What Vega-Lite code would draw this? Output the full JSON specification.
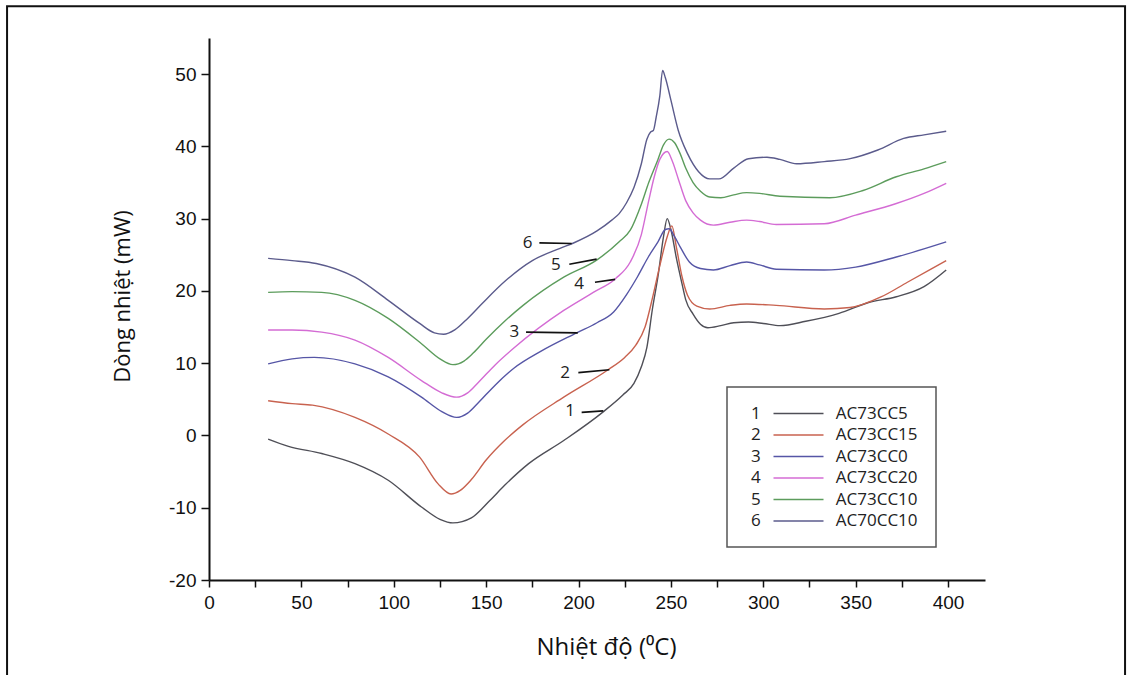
{
  "$schema": "https://vega.github.io/schema/vega-lite/v6.json",
  "width": 776,
  "height": 542,
  "autosize": {"type": "none"},
  "padding": {"left": 209, "top": 38, "right": 147, "bottom": 95},
  "background": "white",
  "config": {
    "view": {"stroke": null},
    "axis": {"grid": false, "domainColor": "#111", "domainWidth": 2, "tickColor": "#111", "tickWidth": 1.5, "labelColor": "#111", "titleColor": "#111", "titleFontWeight": "normal"},
    "legend": {"strokeWidth": 1.5}
  },
  "datasets": {
    "curves": [
      {"name": "AC73CC5", "num": "1", "T": 32, "v": -0.5},
      {"name": "AC73CC5", "num": "1", "T": 43, "v": -1.5},
      {"name": "AC73CC5", "num": "1", "T": 61, "v": -2.5},
      {"name": "AC73CC5", "num": "1", "T": 79, "v": -3.9},
      {"name": "AC73CC5", "num": "1", "T": 97, "v": -6.2},
      {"name": "AC73CC5", "num": "1", "T": 115, "v": -9.9},
      {"name": "AC73CC5", "num": "1", "T": 125, "v": -11.6},
      {"name": "AC73CC5", "num": "1", "T": 132, "v": -12.1},
      {"name": "AC73CC5", "num": "1", "T": 142, "v": -11.4},
      {"name": "AC73CC5", "num": "1", "T": 152, "v": -9.0},
      {"name": "AC73CC5", "num": "1", "T": 160, "v": -6.9},
      {"name": "AC73CC5", "num": "1", "T": 173, "v": -3.9},
      {"name": "AC73CC5", "num": "1", "T": 192, "v": -0.7},
      {"name": "AC73CC5", "num": "1", "T": 213, "v": 3.2},
      {"name": "AC73CC5", "num": "1", "T": 224, "v": 5.6},
      {"name": "AC73CC5", "num": "1", "T": 230, "v": 7.2},
      {"name": "AC73CC5", "num": "1", "T": 234, "v": 9.5},
      {"name": "AC73CC5", "num": "1", "T": 237, "v": 12.2},
      {"name": "AC73CC5", "num": "1", "T": 240, "v": 17.5},
      {"name": "AC73CC5", "num": "1", "T": 243, "v": 22.0},
      {"name": "AC73CC5", "num": "1", "T": 246, "v": 27.5},
      {"name": "AC73CC5", "num": "1", "T": 248, "v": 30.0},
      {"name": "AC73CC5", "num": "1", "T": 250, "v": 28.5},
      {"name": "AC73CC5", "num": "1", "T": 253, "v": 24.5},
      {"name": "AC73CC5", "num": "1", "T": 256, "v": 21.0},
      {"name": "AC73CC5", "num": "1", "T": 258, "v": 18.8},
      {"name": "AC73CC5", "num": "1", "T": 262, "v": 16.8},
      {"name": "AC73CC5", "num": "1", "T": 266, "v": 15.4},
      {"name": "AC73CC5", "num": "1", "T": 270, "v": 14.9},
      {"name": "AC73CC5", "num": "1", "T": 277, "v": 15.2},
      {"name": "AC73CC5", "num": "1", "T": 284, "v": 15.6},
      {"name": "AC73CC5", "num": "1", "T": 292, "v": 15.7},
      {"name": "AC73CC5", "num": "1", "T": 300, "v": 15.5},
      {"name": "AC73CC5", "num": "1", "T": 309, "v": 15.2},
      {"name": "AC73CC5", "num": "1", "T": 323, "v": 15.8},
      {"name": "AC73CC5", "num": "1", "T": 341, "v": 16.9},
      {"name": "AC73CC5", "num": "1", "T": 357, "v": 18.4},
      {"name": "AC73CC5", "num": "1", "T": 372, "v": 19.2},
      {"name": "AC73CC5", "num": "1", "T": 387, "v": 20.6},
      {"name": "AC73CC5", "num": "1", "T": 399, "v": 22.9},

      {"name": "AC73CC15", "num": "2", "T": 32, "v": 4.8},
      {"name": "AC73CC15", "num": "2", "T": 45, "v": 4.4},
      {"name": "AC73CC15", "num": "2", "T": 56, "v": 4.2},
      {"name": "AC73CC15", "num": "2", "T": 79, "v": 2.5},
      {"name": "AC73CC15", "num": "2", "T": 97, "v": 0.2},
      {"name": "AC73CC15", "num": "2", "T": 114, "v": -3.0},
      {"name": "AC73CC15", "num": "2", "T": 124, "v": -6.7},
      {"name": "AC73CC15", "num": "2", "T": 131, "v": -8.1},
      {"name": "AC73CC15", "num": "2", "T": 136, "v": -7.6},
      {"name": "AC73CC15", "num": "2", "T": 142, "v": -6.1},
      {"name": "AC73CC15", "num": "2", "T": 150, "v": -3.4},
      {"name": "AC73CC15", "num": "2", "T": 160, "v": -0.7},
      {"name": "AC73CC15", "num": "2", "T": 170, "v": 1.5},
      {"name": "AC73CC15", "num": "2", "T": 192, "v": 5.3},
      {"name": "AC73CC15", "num": "2", "T": 216, "v": 9.1},
      {"name": "AC73CC15", "num": "2", "T": 225, "v": 10.8},
      {"name": "AC73CC15", "num": "2", "T": 231, "v": 12.5},
      {"name": "AC73CC15", "num": "2", "T": 236, "v": 15.0},
      {"name": "AC73CC15", "num": "2", "T": 240, "v": 19.0},
      {"name": "AC73CC15", "num": "2", "T": 244, "v": 23.5},
      {"name": "AC73CC15", "num": "2", "T": 248, "v": 27.5},
      {"name": "AC73CC15", "num": "2", "T": 250.5, "v": 29.0},
      {"name": "AC73CC15", "num": "2", "T": 253, "v": 26.0},
      {"name": "AC73CC15", "num": "2", "T": 256, "v": 22.0},
      {"name": "AC73CC15", "num": "2", "T": 259, "v": 19.4},
      {"name": "AC73CC15", "num": "2", "T": 264, "v": 17.9},
      {"name": "AC73CC15", "num": "2", "T": 271, "v": 17.5},
      {"name": "AC73CC15", "num": "2", "T": 282, "v": 18.0},
      {"name": "AC73CC15", "num": "2", "T": 291, "v": 18.2},
      {"name": "AC73CC15", "num": "2", "T": 307, "v": 18.0},
      {"name": "AC73CC15", "num": "2", "T": 333, "v": 17.5},
      {"name": "AC73CC15", "num": "2", "T": 347, "v": 17.7},
      {"name": "AC73CC15", "num": "2", "T": 364, "v": 19.2},
      {"name": "AC73CC15", "num": "2", "T": 378, "v": 21.2},
      {"name": "AC73CC15", "num": "2", "T": 399, "v": 24.2},

      {"name": "AC73CC0", "num": "3", "T": 32, "v": 9.9},
      {"name": "AC73CC0", "num": "3", "T": 45, "v": 10.6},
      {"name": "AC73CC0", "num": "3", "T": 57, "v": 10.8},
      {"name": "AC73CC0", "num": "3", "T": 79, "v": 9.9},
      {"name": "AC73CC0", "num": "3", "T": 97, "v": 8.1},
      {"name": "AC73CC0", "num": "3", "T": 115, "v": 5.3},
      {"name": "AC73CC0", "num": "3", "T": 126, "v": 3.3},
      {"name": "AC73CC0", "num": "3", "T": 134, "v": 2.5},
      {"name": "AC73CC0", "num": "3", "T": 140, "v": 3.1},
      {"name": "AC73CC0", "num": "3", "T": 146, "v": 4.6},
      {"name": "AC73CC0", "num": "3", "T": 155, "v": 7.0},
      {"name": "AC73CC0", "num": "3", "T": 165, "v": 9.3},
      {"name": "AC73CC0", "num": "3", "T": 180, "v": 11.7},
      {"name": "AC73CC0", "num": "3", "T": 199, "v": 14.2},
      {"name": "AC73CC0", "num": "3", "T": 210, "v": 15.6},
      {"name": "AC73CC0", "num": "3", "T": 219, "v": 17.1},
      {"name": "AC73CC0", "num": "3", "T": 226, "v": 19.5},
      {"name": "AC73CC0", "num": "3", "T": 232, "v": 22.0},
      {"name": "AC73CC0", "num": "3", "T": 238, "v": 24.8},
      {"name": "AC73CC0", "num": "3", "T": 243, "v": 26.8},
      {"name": "AC73CC0", "num": "3", "T": 247, "v": 28.5},
      {"name": "AC73CC0", "num": "3", "T": 249, "v": 28.6},
      {"name": "AC73CC0", "num": "3", "T": 252, "v": 27.5},
      {"name": "AC73CC0", "num": "3", "T": 255, "v": 26.1},
      {"name": "AC73CC0", "num": "3", "T": 260, "v": 24.0},
      {"name": "AC73CC0", "num": "3", "T": 266, "v": 23.1},
      {"name": "AC73CC0", "num": "3", "T": 273, "v": 22.9},
      {"name": "AC73CC0", "num": "3", "T": 282, "v": 23.5},
      {"name": "AC73CC0", "num": "3", "T": 291, "v": 24.0},
      {"name": "AC73CC0", "num": "3", "T": 298, "v": 23.6},
      {"name": "AC73CC0", "num": "3", "T": 307, "v": 23.0},
      {"name": "AC73CC0", "num": "3", "T": 333, "v": 22.9},
      {"name": "AC73CC0", "num": "3", "T": 350, "v": 23.3},
      {"name": "AC73CC0", "num": "3", "T": 372, "v": 24.7},
      {"name": "AC73CC0", "num": "3", "T": 399, "v": 26.8},

      {"name": "AC73CC20", "num": "4", "T": 32, "v": 14.6},
      {"name": "AC73CC20", "num": "4", "T": 45, "v": 14.6},
      {"name": "AC73CC20", "num": "4", "T": 61, "v": 14.3},
      {"name": "AC73CC20", "num": "4", "T": 79, "v": 13.2},
      {"name": "AC73CC20", "num": "4", "T": 97, "v": 10.8},
      {"name": "AC73CC20", "num": "4", "T": 115, "v": 7.6},
      {"name": "AC73CC20", "num": "4", "T": 126, "v": 5.9},
      {"name": "AC73CC20", "num": "4", "T": 134, "v": 5.3},
      {"name": "AC73CC20", "num": "4", "T": 140, "v": 5.9},
      {"name": "AC73CC20", "num": "4", "T": 146, "v": 7.4},
      {"name": "AC73CC20", "num": "4", "T": 155, "v": 9.8},
      {"name": "AC73CC20", "num": "4", "T": 165, "v": 12.1},
      {"name": "AC73CC20", "num": "4", "T": 192, "v": 17.3},
      {"name": "AC73CC20", "num": "4", "T": 208, "v": 19.8},
      {"name": "AC73CC20", "num": "4", "T": 220, "v": 21.7},
      {"name": "AC73CC20", "num": "4", "T": 228, "v": 24.0},
      {"name": "AC73CC20", "num": "4", "T": 234, "v": 27.8},
      {"name": "AC73CC20", "num": "4", "T": 238, "v": 32.5},
      {"name": "AC73CC20", "num": "4", "T": 241, "v": 35.8},
      {"name": "AC73CC20", "num": "4", "T": 244, "v": 38.2},
      {"name": "AC73CC20", "num": "4", "T": 248, "v": 39.3},
      {"name": "AC73CC20", "num": "4", "T": 251, "v": 37.8},
      {"name": "AC73CC20", "num": "4", "T": 254, "v": 35.5},
      {"name": "AC73CC20", "num": "4", "T": 258, "v": 32.5},
      {"name": "AC73CC20", "num": "4", "T": 262, "v": 30.8},
      {"name": "AC73CC20", "num": "4", "T": 266, "v": 29.8},
      {"name": "AC73CC20", "num": "4", "T": 273, "v": 29.1},
      {"name": "AC73CC20", "num": "4", "T": 282, "v": 29.5},
      {"name": "AC73CC20", "num": "4", "T": 291, "v": 29.8},
      {"name": "AC73CC20", "num": "4", "T": 298, "v": 29.6},
      {"name": "AC73CC20", "num": "4", "T": 307, "v": 29.2},
      {"name": "AC73CC20", "num": "4", "T": 333, "v": 29.3},
      {"name": "AC73CC20", "num": "4", "T": 350, "v": 30.5},
      {"name": "AC73CC20", "num": "4", "T": 372, "v": 32.1},
      {"name": "AC73CC20", "num": "4", "T": 387, "v": 33.5},
      {"name": "AC73CC20", "num": "4", "T": 399, "v": 34.9},

      {"name": "AC73CC10", "num": "5", "T": 32, "v": 19.8},
      {"name": "AC73CC10", "num": "5", "T": 45, "v": 19.9},
      {"name": "AC73CC10", "num": "5", "T": 61, "v": 19.8},
      {"name": "AC73CC10", "num": "5", "T": 79, "v": 18.7},
      {"name": "AC73CC10", "num": "5", "T": 97, "v": 16.2},
      {"name": "AC73CC10", "num": "5", "T": 115, "v": 12.7},
      {"name": "AC73CC10", "num": "5", "T": 125, "v": 10.6},
      {"name": "AC73CC10", "num": "5", "T": 132, "v": 9.8},
      {"name": "AC73CC10", "num": "5", "T": 138, "v": 10.3},
      {"name": "AC73CC10", "num": "5", "T": 143, "v": 11.4},
      {"name": "AC73CC10", "num": "5", "T": 150, "v": 13.3},
      {"name": "AC73CC10", "num": "5", "T": 160, "v": 15.8},
      {"name": "AC73CC10", "num": "5", "T": 170, "v": 18.0},
      {"name": "AC73CC10", "num": "5", "T": 192, "v": 21.9},
      {"name": "AC73CC10", "num": "5", "T": 210, "v": 24.3},
      {"name": "AC73CC10", "num": "5", "T": 222, "v": 26.8},
      {"name": "AC73CC10", "num": "5", "T": 228, "v": 28.4},
      {"name": "AC73CC10", "num": "5", "T": 234, "v": 32.0},
      {"name": "AC73CC10", "num": "5", "T": 238, "v": 35.0},
      {"name": "AC73CC10", "num": "5", "T": 243, "v": 38.2},
      {"name": "AC73CC10", "num": "5", "T": 246, "v": 40.2},
      {"name": "AC73CC10", "num": "5", "T": 249, "v": 41.0},
      {"name": "AC73CC10", "num": "5", "T": 252, "v": 40.5},
      {"name": "AC73CC10", "num": "5", "T": 255, "v": 39.0},
      {"name": "AC73CC10", "num": "5", "T": 258, "v": 37.0},
      {"name": "AC73CC10", "num": "5", "T": 262, "v": 35.0},
      {"name": "AC73CC10", "num": "5", "T": 266, "v": 33.8},
      {"name": "AC73CC10", "num": "5", "T": 271, "v": 33.0},
      {"name": "AC73CC10", "num": "5", "T": 277, "v": 32.9},
      {"name": "AC73CC10", "num": "5", "T": 284, "v": 33.3},
      {"name": "AC73CC10", "num": "5", "T": 291, "v": 33.6},
      {"name": "AC73CC10", "num": "5", "T": 298, "v": 33.5},
      {"name": "AC73CC10", "num": "5", "T": 309, "v": 33.1},
      {"name": "AC73CC10", "num": "5", "T": 336, "v": 32.9},
      {"name": "AC73CC10", "num": "5", "T": 354, "v": 33.9},
      {"name": "AC73CC10", "num": "5", "T": 372, "v": 35.8},
      {"name": "AC73CC10", "num": "5", "T": 387, "v": 36.9},
      {"name": "AC73CC10", "num": "5", "T": 399, "v": 37.9},

      {"name": "AC70CC10", "num": "6", "T": 32, "v": 24.5},
      {"name": "AC70CC10", "num": "6", "T": 45, "v": 24.2},
      {"name": "AC70CC10", "num": "6", "T": 58, "v": 23.8},
      {"name": "AC70CC10", "num": "6", "T": 79, "v": 21.9},
      {"name": "AC70CC10", "num": "6", "T": 97, "v": 18.7},
      {"name": "AC70CC10", "num": "6", "T": 114, "v": 15.5},
      {"name": "AC70CC10", "num": "6", "T": 122, "v": 14.2},
      {"name": "AC70CC10", "num": "6", "T": 127, "v": 14.0},
      {"name": "AC70CC10", "num": "6", "T": 133, "v": 14.6},
      {"name": "AC70CC10", "num": "6", "T": 140, "v": 16.2},
      {"name": "AC70CC10", "num": "6", "T": 148, "v": 18.3},
      {"name": "AC70CC10", "num": "6", "T": 160, "v": 21.3},
      {"name": "AC70CC10", "num": "6", "T": 175, "v": 24.2},
      {"name": "AC70CC10", "num": "6", "T": 190, "v": 25.9},
      {"name": "AC70CC10", "num": "6", "T": 197, "v": 26.6},
      {"name": "AC70CC10", "num": "6", "T": 210, "v": 28.3},
      {"name": "AC70CC10", "num": "6", "T": 218, "v": 29.8},
      {"name": "AC70CC10", "num": "6", "T": 222, "v": 30.7},
      {"name": "AC70CC10", "num": "6", "T": 226, "v": 32.2},
      {"name": "AC70CC10", "num": "6", "T": 230, "v": 34.3},
      {"name": "AC70CC10", "num": "6", "T": 234, "v": 37.6},
      {"name": "AC70CC10", "num": "6", "T": 237, "v": 41.0},
      {"name": "AC70CC10", "num": "6", "T": 239, "v": 42.0},
      {"name": "AC70CC10", "num": "6", "T": 240.5, "v": 42.2},
      {"name": "AC70CC10", "num": "6", "T": 242, "v": 44.0},
      {"name": "AC70CC10", "num": "6", "T": 244, "v": 47.0},
      {"name": "AC70CC10", "num": "6", "T": 245.5, "v": 50.5},
      {"name": "AC70CC10", "num": "6", "T": 247, "v": 49.5},
      {"name": "AC70CC10", "num": "6", "T": 250, "v": 46.4},
      {"name": "AC70CC10", "num": "6", "T": 254, "v": 42.2},
      {"name": "AC70CC10", "num": "6", "T": 259, "v": 39.0},
      {"name": "AC70CC10", "num": "6", "T": 265, "v": 36.5},
      {"name": "AC70CC10", "num": "6", "T": 271, "v": 35.5},
      {"name": "AC70CC10", "num": "6", "T": 276, "v": 35.5},
      {"name": "AC70CC10", "num": "6", "T": 284, "v": 37.0},
      {"name": "AC70CC10", "num": "6", "T": 292, "v": 38.3},
      {"name": "AC70CC10", "num": "6", "T": 302, "v": 38.5},
      {"name": "AC70CC10", "num": "6", "T": 309, "v": 38.2},
      {"name": "AC70CC10", "num": "6", "T": 318, "v": 37.6},
      {"name": "AC70CC10", "num": "6", "T": 333, "v": 37.9},
      {"name": "AC70CC10", "num": "6", "T": 347, "v": 38.3},
      {"name": "AC70CC10", "num": "6", "T": 362, "v": 39.5},
      {"name": "AC70CC10", "num": "6", "T": 376, "v": 41.1},
      {"name": "AC70CC10", "num": "6", "T": 387, "v": 41.6},
      {"name": "AC70CC10", "num": "6", "T": 399, "v": 42.1}
    ],
    "tags": [
      {"num": "1", "T": 195.4, "v": 3.4},
      {"num": "2", "T": 192.7, "v": 8.6},
      {"num": "3", "T": 165.3, "v": 14.3},
      {"num": "4", "T": 200.3, "v": 20.9},
      {"num": "5", "T": 187.8, "v": 23.6},
      {"num": "6", "T": 172.5, "v": 26.65}
    ],
    "leaders": [
      {"num": "1", "T": 201.7, "T2": 213.4, "v": 3.2, "v2": 3.4},
      {"num": "2", "T": 199.9, "T2": 216.7, "v": 8.7, "v2": 9.1},
      {"num": "3", "T": 171.6, "T2": 199.6, "v": 14.3, "v2": 14.2},
      {"num": "4", "T": 208.9, "T2": 219.8, "v": 21.2, "v2": 21.6},
      {"num": "5", "T": 195.0, "T2": 209.8, "v": 23.7, "v2": 24.4},
      {"num": "6", "T": 178.8, "T2": 196.3, "v": 26.65, "v2": 26.57}
    ]
  },
  "layer": [
    {
      "data": {"values": [{}]},
      "mark": {"type": "rect", "fill": null, "stroke": "#111", "strokeWidth": 2},
      "encoding": {
        "x": {"datum": -109.3, "type": "quantitative", "scale": {"domain": [0, 420]}},
        "x2": {"datum": 495.8},
        "y": {"datum": 59.4, "type": "quantitative", "scale": {"domain": [-20, 55]}},
        "y2": {"datum": -40}
      }
    },
    {
      "data": {"name": "curves"},
      "mark": {"type": "line", "interpolate": "monotone", "strokeWidth": 1.4},
      "encoding": {
        "x": {
          "field": "T", "type": "quantitative",
          "scale": {"domain": [0, 420], "nice": false, "zero": false},
          "axis": {
            "title": "Nhiệt độ (⁰C)",
            "values": [0, 25, 50, 75, 100, 125, 150, 175, 200, 225, 250, 275, 300, 325, 350, 375, 400],
            "labelExpr": "datum.value % 50 == 0 ? toString(datum.value) : ''",
            "labelFont": "Liberation Sans", "labelFontSize": 19, "labelPadding": 6,
            "labelFlush": false, "labelOverlap": false, "labelBound": false,
            "tickSize": 7,
            "titleFont": "Open Sans", "titleFontSize": 24, "titlePadding": 23, "titleX": 397
          }
        },
        "y": {
          "field": "v", "type": "quantitative",
          "scale": {"domain": [-20, 55], "nice": false, "zero": false},
          "axis": {
            "title": "Dòng nhiệt (mW)",
            "values": [-20, -15, -10, -5, 0, 5, 10, 15, 20, 25, 30, 35, 40, 45, 50, 55],
            "labelExpr": "datum.value % 10 == 0 ? toString(datum.value) : ''",
            "labelFont": "Liberation Sans", "labelFontSize": 19, "labelPadding": 5,
            "labelFlush": false, "labelOverlap": false, "labelBound": false,
            "tickSize": 8,
            "titleFont": "Open Sans", "titleFontSize": 22, "titlePadding": 34, "titleY": 258
          }
        },
        "color": {
          "field": "name", "type": "nominal",
          "scale": {
            "domain": ["AC73CC5", "AC73CC15", "AC73CC0", "AC73CC20", "AC73CC10", "AC70CC10"],
            "range": ["#4f4f57", "#c8624f", "#5656a6", "#d46cd4", "#5c9c5c", "#5b5b8c"]
          },
          "legend": {
            "title": null,
            "orient": "none", "legendX": 518, "legendY": 349,
            "direction": "vertical",
            "symbolType": "M4,0L14,0", "symbolSize": 100, "symbolStrokeWidth": 1.5,
            "labelOffset": -11,
            "labelFont": "Open Sans", "labelFontSize": 17, "labelColor": "#222", "labelLimit": 400,
            "labelExpr": "(indexof(['AC73CC5','AC73CC15','AC73CC0','AC73CC20','AC73CC10','AC70CC10'], datum.label) + 1) + '\u00a0\u00a0\u00a0\u00a0\u00a0\u00a0\u00a0\u00a0\u00a0\u00a0\u00a0\u00a0\u00a0\u00a0\u00a0\u00a0\u00a0' + datum.label + '\u00a0\u00a0'",
            "rowPadding": 3.5, "padding": 18,
            "strokeColor": "#555", "fillColor": "white"
          }
        }
      }
    },
    {
      "data": {"name": "leaders"},
      "mark": {"type": "rule", "stroke": "#111", "strokeWidth": 1.6},
      "encoding": {
        "x": {"field": "T", "type": "quantitative"},
        "x2": {"field": "T2"},
        "y": {"field": "v", "type": "quantitative"},
        "y2": {"field": "v2"}
      }
    },
    {
      "data": {"name": "tags"},
      "mark": {"type": "text", "font": "Open Sans", "fontSize": 17, "color": "#222", "align": "center", "baseline": "middle"},
      "encoding": {
        "x": {"field": "T", "type": "quantitative"},
        "y": {"field": "v", "type": "quantitative"},
        "text": {"field": "num"}
      }
    }
  ]
}
